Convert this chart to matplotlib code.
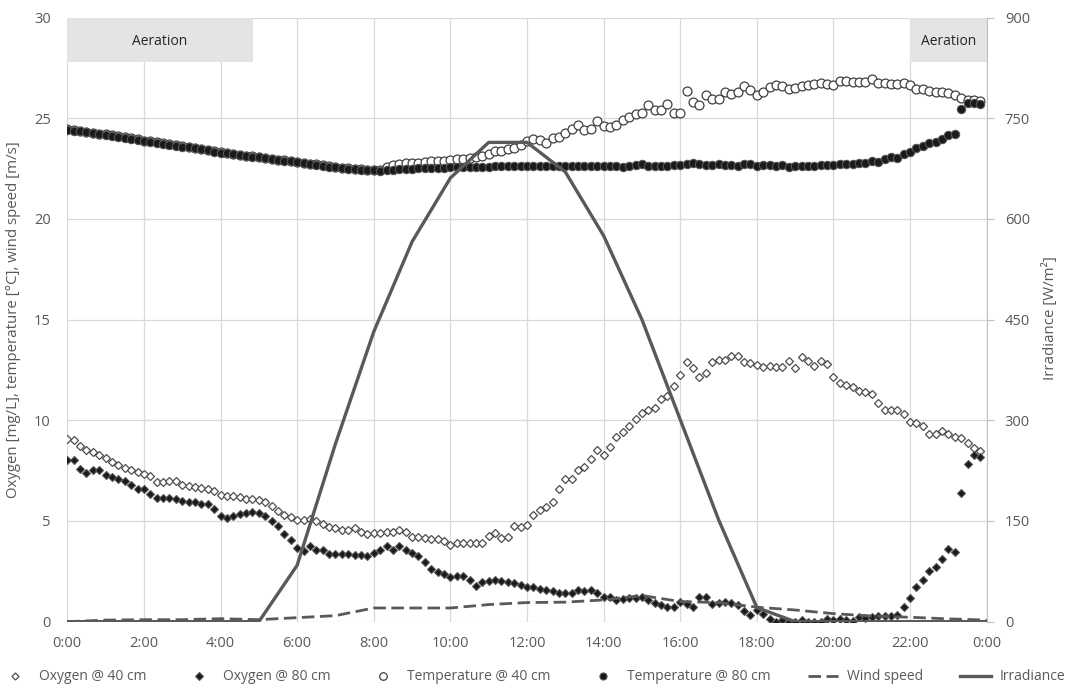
import numpy as np
import matplotlib.pyplot as plt
from matplotlib.patches import Rectangle

plt.rcParams['font.family'] = ['Open Sans', 'DejaVu Sans']

# 10-minute readings, one row per hour (0:00 ... 23:50)
oxygen_40 = [
    9.09, 9.00, 8.74, 8.54, 8.42, 8.29,
    8.13, 7.93, 7.79, 7.63, 7.55, 7.41,
    7.35, 7.25, 6.95, 6.95, 6.98, 6.97,
    6.78, 6.75, 6.68, 6.63, 6.58, 6.50,
    6.30, 6.25, 6.22, 6.19, 6.09, 6.10,
    6.05, 5.94, 5.75, 5.49, 5.31, 5.19,
    5.06, 5.04, 5.09, 4.99, 4.86, 4.69,
    4.63, 4.53, 4.56, 4.64, 4.44, 4.36,
    4.39, 4.39, 4.44, 4.47, 4.57, 4.47,
    4.19, 4.19, 4.15, 4.12, 4.09, 3.99,
    3.82, 3.92, 3.92, 3.92, 3.92, 3.92,
    4.24, 4.40, 4.15, 4.19, 4.74, 4.69,
    4.80, 5.28, 5.55, 5.68, 5.93, 6.59,
    7.09, 7.09, 7.55, 7.69, 8.10, 8.52,
    8.26, 8.65, 9.19, 9.42, 9.72, 10.08,
    10.35, 10.52, 10.60, 11.05, 11.21, 11.69,
    12.27, 12.90, 12.58, 12.14, 12.35, 12.90,
    13.00, 13.00, 13.20, 13.20, 12.90, 12.85,
    12.75, 12.65, 12.70, 12.65, 12.65, 12.95,
    12.58, 13.13, 12.95, 12.70, 12.95, 12.80,
    12.17, 11.84, 11.74, 11.64, 11.44, 11.39,
    11.29, 10.88, 10.51, 10.51, 10.51, 10.31,
    9.93, 9.85, 9.72, 9.32, 9.32, 9.49,
    9.32, 9.16, 9.12, 8.86, 8.61, 8.46,
]

oxygen_80 = [
    8.02, 8.02, 7.60, 7.40, 7.53, 7.53,
    7.30, 7.19, 7.08, 6.97, 6.78, 6.61,
    6.57, 6.34, 6.15, 6.16, 6.15, 6.08,
    5.98, 5.93, 5.93, 5.85, 5.83, 5.62,
    5.27, 5.13, 5.27, 5.36, 5.42, 5.45,
    5.41, 5.25, 5.00, 4.75, 4.37, 4.04,
    3.67, 3.53, 3.77, 3.56, 3.55, 3.34,
    3.35, 3.38, 3.36, 3.30, 3.30, 3.25,
    3.42, 3.58, 3.78, 3.58, 3.78, 3.58,
    3.42, 3.26, 2.94, 2.62, 2.49, 2.38,
    2.24, 2.29, 2.26, 2.08, 1.78, 1.99,
    2.04, 2.08, 2.04, 1.99, 1.94, 1.83,
    1.74, 1.74, 1.63, 1.58, 1.50, 1.43,
    1.41, 1.43, 1.58, 1.51, 1.58, 1.43,
    1.21, 1.21, 1.08, 1.13, 1.18, 1.18,
    1.25, 1.08, 0.91, 0.83, 0.75, 0.71,
    0.96, 0.88, 0.71, 1.21, 1.21, 0.88,
    0.91, 0.96, 0.91, 0.84, 0.55, 0.35,
    0.58, 0.38, 0.13, 0.00, 0.10, 0.00,
    0.00, 0.08, 0.00, 0.00, 0.00, 0.13,
    0.08, 0.13, 0.08, 0.05, 0.21, 0.16,
    0.25, 0.28, 0.28, 0.28, 0.33, 0.75,
    1.16, 1.74, 2.09, 2.50, 2.70, 3.11,
    3.59, 3.47, 6.37, 7.85, 8.29, 8.19,
]

temperature_40 = [
    24.44, 24.41, 24.37, 24.33, 24.29, 24.24,
    24.20, 24.15, 24.10, 24.05, 24.00, 23.95,
    23.89, 23.85, 23.80, 23.75, 23.71, 23.66,
    23.61, 23.57, 23.52, 23.47, 23.42, 23.36,
    23.31, 23.27, 23.23, 23.18, 23.14, 23.10,
    23.07, 23.03, 22.99, 22.95, 22.91, 22.88,
    22.85, 22.80, 22.75, 22.71, 22.66, 22.62,
    22.59, 22.55, 22.52, 22.49, 22.47, 22.45,
    22.43, 22.45, 22.60, 22.66, 22.71, 22.76,
    22.79, 22.79, 22.84, 22.87, 22.87, 22.90,
    22.92, 22.96, 22.99, 23.04, 23.07, 23.12,
    23.23, 23.36, 23.36, 23.45, 23.53, 23.65,
    23.88, 23.97, 23.92, 23.77, 24.00, 24.07,
    24.29, 24.45, 24.66, 24.40, 24.48, 24.87,
    24.62, 24.58, 24.65, 24.91, 25.08, 25.19,
    25.27, 25.64, 25.41, 25.41, 25.69, 25.27,
    25.27, 26.35, 25.80, 25.64, 26.13, 25.93,
    25.96, 26.30, 26.18, 26.30, 26.60, 26.40,
    26.13, 26.30, 26.56, 26.65, 26.60, 26.43,
    26.51, 26.60, 26.63, 26.68, 26.76, 26.68,
    26.63, 26.85, 26.85, 26.81, 26.80, 26.80,
    26.93, 26.76, 26.73, 26.68, 26.68, 26.76,
    26.63, 26.47, 26.43, 26.35, 26.30, 26.30,
    26.23, 26.13, 26.00, 25.92, 25.88, 25.85,
]

temperature_80 = [
    24.42, 24.39, 24.35, 24.31, 24.27, 24.22,
    24.18, 24.13, 24.08, 24.03, 23.98, 23.93,
    23.87, 23.83, 23.78, 23.73, 23.69, 23.64,
    23.59, 23.55, 23.50, 23.45, 23.40, 23.34,
    23.29, 23.25, 23.21, 23.16, 23.12, 23.08,
    23.05, 23.01, 22.97, 22.93, 22.89, 22.86,
    22.83, 22.78, 22.73, 22.69, 22.64, 22.60,
    22.57, 22.53, 22.50, 22.47, 22.45, 22.43,
    22.41, 22.39, 22.41, 22.45, 22.47, 22.48,
    22.50, 22.51, 22.52, 22.53, 22.54, 22.55,
    22.56, 22.57, 22.58, 22.58, 22.59, 22.60,
    22.60, 22.61, 22.61, 22.62, 22.62, 22.63,
    22.63, 22.63, 22.63, 22.63, 22.63, 22.63,
    22.63, 22.63, 22.63, 22.63, 22.63, 22.63,
    22.63, 22.63, 22.63, 22.60, 22.63, 22.66,
    22.71, 22.63, 22.63, 22.63, 22.63, 22.68,
    22.66, 22.71, 22.79, 22.71, 22.68, 22.68,
    22.71, 22.69, 22.68, 22.63, 22.71, 22.71,
    22.63, 22.66, 22.66, 22.63, 22.66, 22.60,
    22.63, 22.63, 22.63, 22.63, 22.68, 22.68,
    22.70, 22.71, 22.72, 22.74, 22.77, 22.79,
    22.87, 22.82, 22.96, 23.07, 23.00, 23.20,
    23.34, 23.50, 23.62, 23.75, 23.82, 23.98,
    24.18, 24.20, 25.48, 25.74, 25.74, 25.73,
]

# hourly readings, 0:00 ... 24:00
wind_speed = [0.0, 0.08, 0.10, 0.10, 0.15, 0.10, 0.20, 0.30, 0.68, 0.68, 0.68, 0.85,
              0.95, 0.97, 1.08, 1.30, 1.00, 0.95, 0.72, 0.58, 0.40, 0.28, 0.22, 0.14, 0.08]
irradiance = [0, 0, 0, 0, 0, 0, 84, 265, 432, 566, 661, 714,
              714, 670, 575, 450, 301, 152, 21, 0, 0, 0, 0, 0, 0]

tick_hours = list(range(0, 25, 2))
tick_labels = ['0:00', '2:00', '4:00', '6:00', '8:00', '10:00', '12:00',
               '14:00', '16:00', '18:00', '20:00', '22:00', '0:00']
aeration_periods = [(0.0, 4.84), (22.0, 24.0)]

t10 = np.arange(len(oxygen_40)) / 6.0
t60 = np.arange(len(irradiance))

grey = '#595959'
fig = plt.figure(figsize=(10.65, 6.9), dpi=100)
ax = fig.add_axes([0.0632, 0.099, 0.8633, 0.8756])

# aeration bands along the top
for x0, x1 in aeration_periods:
    ax.add_patch(Rectangle((x0, 27.8), x1 - x0, 2.2, facecolor='#E4E4E6',
                           edgecolor='none', zorder=1))
    ax.text((x0 + x1) / 2, 28.83, 'Aeration', ha='center', va='center',
            fontsize=10, color='#262626', zorder=2)

l1, = ax.plot(t10, oxygen_40, ls='none', marker='D', ms=4.2, mfc='white',
              mec='#4d4d4d', mew=0.9, label='Oxygen @ 40 cm', zorder=3)
l2, = ax.plot(t10, oxygen_80, ls='none', marker='D', ms=4.4, mfc='#1a1a1a',
              mec='#555555', mew=0.8, label='Oxygen @ 80 cm', zorder=3)
l3, = ax.plot(t10, temperature_40, ls='none', marker='o', ms=6.4, mfc='white',
              mec='#404040', mew=0.9, label='Temperature @ 40 cm', zorder=3)
l4, = ax.plot(t10, temperature_80, ls='none', marker='o', ms=6.0, mfc='#1a1a1a',
              mec='#555555', mew=0.8, label='Temperature @ 80 cm', zorder=3)
l5, = ax.plot(t60, wind_speed, color=grey, lw=2.0, ls=(0, (4.5, 2)),
              label='Wind speed', zorder=4)

ax.set_xlim(0, 24)
ax.set_ylim(0, 30)
ax.set_xticks(tick_hours)
ax.set_xticklabels(tick_labels)
ax.set_yticks(range(0, 31, 5))
ax.grid(color='#D9D9D9', lw=0.9)
ax.set_axisbelow(True)
for s in ax.spines.values():
    s.set_visible(False)
ax.tick_params(axis='both', length=0, colors=grey, labelsize=10.5)
ax.tick_params(axis='y', pad=12)
ax.tick_params(axis='x', pad=10)

ax2 = ax.twinx()
l6, = ax2.plot(t60, irradiance, color=grey, lw=2.4, label='Irradiance', zorder=5)
ax2.set_ylim(0, 900)
ax2.set_yticks(range(0, 901, 150))
for s in ['left', 'top', 'bottom']:
    ax2.spines[s].set_visible(False)
ax2.spines['right'].set_color('#BFBFBF')
ax2.tick_params(axis='y', length=5, color='#BFBFBF', colors=grey,
                labelsize=10.5, pad=8)

fig.text(14 / 1065, 1 - 320 / 690, 'Oxygen [mg/L], temperature [°C], wind speed [m/s]',
         rotation=90, ha='center', va='center', fontsize=10.8, color=grey)
fig.text(1050 / 1065, 1 - 318 / 690, 'Irradiance [W/m²]',
         rotation=90, ha='center', va='center', fontsize=10.8, color=grey)

fig.legend(handles=[l1, l2, l3, l4, l5, l6], loc='center', ncol=6,
           bbox_to_anchor=(0.5, 1 - 677 / 690), frameon=False, fontsize=10,
           labelcolor=grey, handlelength=2.2, handletextpad=0.6,
           columnspacing=2.7, markerscale=0.85)

fig.savefig('out.png', dpi=100)
